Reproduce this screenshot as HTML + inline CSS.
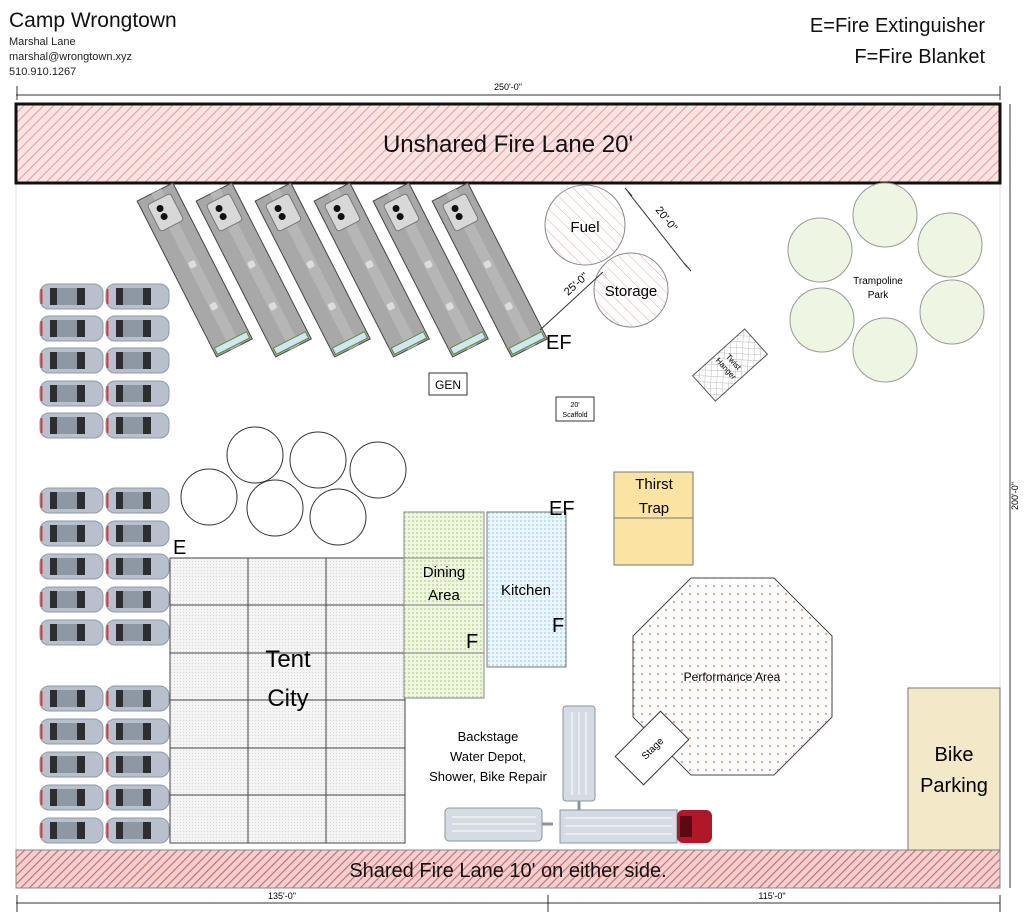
<!DOCTYPE html>
<html><head><meta charset="utf-8"><style>
html,body{margin:0;padding:0;background:#fff;}
svg{display:block;font-family:"Liberation Sans","DejaVu Sans",sans-serif;}
</style></head><body>
<svg width="1024" height="916" viewBox="0 0 1024 916" xmlns="http://www.w3.org/2000/svg">
<defs>
<pattern id="hatch" width="7" height="7" patternUnits="userSpaceOnUse" patternTransform="rotate(45)">
<rect width="7" height="7" fill="#fbe3e3"/><line x1="0" y1="0" x2="0" y2="7" stroke="#e89a9a" stroke-width="2"/></pattern>
<pattern id="hatch2" width="6" height="6" patternUnits="userSpaceOnUse" patternTransform="rotate(45)">
<rect width="6" height="6" fill="#f3cfcf"/><line x1="0" y1="0" x2="0" y2="6" stroke="#c86a6a" stroke-width="2.2"/></pattern>
<pattern id="chatch" width="8" height="8" patternUnits="userSpaceOnUse" patternTransform="rotate(-45)">
<rect width="8" height="8" fill="#fff"/><line x1="0" y1="0" x2="0" y2="8" stroke="#f0a8a8" stroke-width="1"/></pattern>
<pattern id="dots" width="8" height="8" patternUnits="userSpaceOnUse">
<rect width="8" height="8" fill="#fff"/><circle cx="2" cy="2" r="0.9" fill="#e06060"/></pattern>
<pattern id="grn" width="4" height="4" patternUnits="userSpaceOnUse">
<rect width="4" height="4" fill="#eef5e2"/><rect width="2" height="2" fill="#c9dfae"/></pattern>
<pattern id="blu" width="4" height="4" patternUnits="userSpaceOnUse">
<rect width="4" height="4" fill="#eef6fb"/><circle cx="1" cy="1" r="0.8" fill="#8fc3e3"/></pattern>
<pattern id="gry" width="3" height="3" patternUnits="userSpaceOnUse">
<rect width="3" height="3" fill="#f4f4f4"/><rect width="1" height="1" fill="#d8d8d8"/></pattern>
<pattern id="tw" width="6" height="6" patternUnits="userSpaceOnUse" patternTransform="rotate(45)">
<rect width="6" height="6" fill="#fff"/><line x1="0" y1="0" x2="0" y2="6" stroke="#bbb"/><line x1="0" y1="0" x2="6" y2="0" stroke="#bbb"/></pattern>
<g id="car">
<rect x="0" y="0" width="63" height="25" rx="9" fill="#b7c0cc" stroke="#8f9aa8"/>
<rect x="10" y="4" width="7" height="17" fill="#2e2e2e"/>
<rect x="17" y="4" width="20" height="17" fill="#8e97a4"/>
<rect x="37" y="4" width="8" height="17" fill="#2e2e2e"/>
<rect x="0.5" y="5" width="2" height="15" fill="#d04040"/>
</g>
<g id="rv">
<rect x="-20" y="0" width="40" height="175" fill="#a8a8a8" stroke="#444"/>
<rect x="-4" y="0" width="11" height="175" fill="#b6b6b6"/>
<rect x="-13" y="8" width="26" height="30" rx="3" fill="#d8d8d8" stroke="#777"/>
<circle cx="-3" cy="17" r="3.5" fill="#111"/><circle cx="-3" cy="26" r="3.5" fill="#111"/>
<rect x="-3" y="78" width="7" height="7" rx="2" fill="#ddd"/>
<rect x="-3" y="125" width="7" height="7" rx="2" fill="#ddd"/>
<rect x="-18" y="166" width="36" height="7" fill="#cfe7f0" stroke="#5a8a3a"/>
</g>
</defs>

<!-- header -->
<text x="9" y="27" font-size="21" fill="#111">Camp Wrongtown</text>
<text x="9" y="45" font-size="11" fill="#222">Marshal Lane</text>
<text x="9" y="60" font-size="11" fill="#222">marshal@wrongtown.xyz</text>
<text x="9" y="75" font-size="11" fill="#222">510.910.1267</text>
<text x="985" y="32" font-size="20" text-anchor="end" fill="#111">E=Fire Extinguisher</text>
<text x="985" y="63" font-size="20" text-anchor="end" fill="#111">F=Fire Blanket</text>

<!-- dimensions -->
<g stroke="#333" stroke-width="1">
<line x1="16" y1="95" x2="1000" y2="95"/><line x1="17" y1="86" x2="17" y2="100"/><line x1="1000" y1="86" x2="1000" y2="100"/>
<line x1="1010" y1="104" x2="1010" y2="888"/>
<line x1="16" y1="903" x2="1000" y2="903"/><line x1="17" y1="895" x2="17" y2="912"/><line x1="548" y1="895" x2="548" y2="912"/><line x1="1000" y1="895" x2="1000" y2="912"/>
<line x1="16" y1="104" x2="16" y2="888" stroke="#ddd"/><line x1="1000" y1="104" x2="1000" y2="888" stroke="#ddd"/>
</g>
<text x="508" y="90" font-size="9" text-anchor="middle">250'-0"</text>
<text x="282" y="899" font-size="9" text-anchor="middle">135'-0"</text>
<text x="772" y="899" font-size="9" text-anchor="middle">115'-0"</text>
<text transform="translate(1018,496) rotate(-90)" font-size="9" text-anchor="middle">200'-0"</text>

<!-- fire lanes -->
<rect x="16" y="104" width="984" height="79" fill="url(#hatch)" stroke="#111" stroke-width="3"/>
<text x="508" y="152" font-size="24" text-anchor="middle" fill="#111">Unshared Fire Lane 20'</text>
<rect x="16" y="850" width="984" height="38" fill="url(#hatch2)" stroke="#888"/>
<text x="508" y="877" font-size="20" text-anchor="middle" fill="#111">Shared Fire Lane 10' on either side.</text>

<!-- RVs -->
<use href="#rv" transform="translate(155,192) rotate(-27)"/>
<use href="#rv" transform="translate(214,192) rotate(-27)"/>
<use href="#rv" transform="translate(273,192) rotate(-27)"/>
<use href="#rv" transform="translate(332,192) rotate(-27)"/>
<use href="#rv" transform="translate(391,192) rotate(-27)"/>
<use href="#rv" transform="translate(450,192) rotate(-27)"/>
<text x="546" y="349" font-size="20">EF</text>

<!-- fuel/storage -->
<circle cx="585" cy="225" r="40" fill="url(#chatch)" stroke="#888"/>
<text x="585" y="232" font-size="15" text-anchor="middle">Fuel</text>
<circle cx="631" cy="290" r="37" fill="url(#chatch)" stroke="#888"/>
<text x="631" y="296" font-size="15" text-anchor="middle">Storage</text>
<g stroke="#333"><line x1="540" y1="330" x2="603" y2="272"/><line x1="628" y1="192" x2="687" y2="267"/><line x1="625" y1="188" x2="632" y2="196"/><line x1="684" y1="263" x2="691" y2="271"/></g>
<text transform="translate(568,296) rotate(-42)" font-size="11">25'-0"</text>
<text transform="translate(655,210) rotate(52)" font-size="11">20'-0"</text>

<!-- trampoline -->
<g fill="#eef5e2" stroke="#999">
<circle cx="885" cy="215" r="32"/><circle cx="820" cy="250" r="32"/><circle cx="950" cy="245" r="32"/>
<circle cx="822" cy="320" r="32"/><circle cx="952" cy="312" r="32"/><circle cx="885" cy="350" r="32"/>
</g>
<text x="878" y="284" font-size="10" text-anchor="middle">Trampoline</text>
<text x="878" y="298" font-size="10" text-anchor="middle">Park</text>

<!-- twist hanger -->
<g transform="translate(730,365) rotate(48)">
<rect x="-17" y="-35" width="34" height="70" fill="url(#tw)" stroke="#555"/>
<text x="0" y="-2" font-size="8" text-anchor="middle">Twist</text>
<text x="0" y="8" font-size="8" text-anchor="middle">Hanger</text>
</g>

<!-- gen, scaffold -->
<rect x="429" y="373" width="38" height="22" fill="#fff" stroke="#333"/>
<text x="448" y="389" font-size="12" text-anchor="middle">GEN</text>
<rect x="556" y="397" width="38" height="24" fill="#fff" stroke="#333"/>
<text x="575" y="407" font-size="7" text-anchor="middle">20'</text>
<text x="575" y="417" font-size="7" text-anchor="middle">Scaffold</text>

<!-- cars -->
<g>
<use href="#car" x="40" y="284"/><use href="#car" x="106" y="284"/>
<use href="#car" x="40" y="316"/><use href="#car" x="106" y="316"/>
<use href="#car" x="40" y="348"/><use href="#car" x="106" y="348"/>
<use href="#car" x="40" y="381"/><use href="#car" x="106" y="381"/>
<use href="#car" x="40" y="413"/><use href="#car" x="106" y="413"/>
<use href="#car" x="40" y="488"/><use href="#car" x="106" y="488"/>
<use href="#car" x="40" y="521"/><use href="#car" x="106" y="521"/>
<use href="#car" x="40" y="554"/><use href="#car" x="106" y="554"/>
<use href="#car" x="40" y="587"/><use href="#car" x="106" y="587"/>
<use href="#car" x="40" y="620"/><use href="#car" x="106" y="620"/>
<use href="#car" x="40" y="686"/><use href="#car" x="106" y="686"/>
<use href="#car" x="40" y="719"/><use href="#car" x="106" y="719"/>
<use href="#car" x="40" y="752"/><use href="#car" x="106" y="752"/>
<use href="#car" x="40" y="785"/><use href="#car" x="106" y="785"/>
<use href="#car" x="40" y="818"/><use href="#car" x="106" y="818"/>
</g>

<!-- white circles -->
<g fill="#fff" stroke="#333">
<circle cx="255" cy="455" r="28"/><circle cx="318" cy="460" r="28"/><circle cx="378" cy="470" r="28"/>
<circle cx="209" cy="497" r="28"/><circle cx="275" cy="508" r="28"/><circle cx="338" cy="517" r="28"/>
</g>
<text x="173" y="554" font-size="20">E</text>

<!-- tent city -->
<rect x="170" y="558" width="235" height="285" fill="url(#gry)" stroke="#444"/>
<g stroke="#444"><line x1="248" y1="558" x2="248" y2="843"/><line x1="326" y1="558" x2="326" y2="843"/>
<line x1="170" y1="605" x2="405" y2="605"/><line x1="170" y1="653" x2="405" y2="653"/><line x1="170" y1="700" x2="405" y2="700"/><line x1="170" y1="748" x2="405" y2="748"/><line x1="170" y1="795" x2="405" y2="795"/></g>
<text x="288" y="667" font-size="24" text-anchor="middle">Tent</text>
<text x="288" y="706" font-size="24" text-anchor="middle">City</text>

<!-- dining -->
<rect x="404" y="512" width="80" height="186" fill="url(#grn)" stroke="#888"/>
<g stroke="#888"><line x1="404" y1="558" x2="484" y2="558"/><line x1="404" y1="605" x2="484" y2="605"/><line x1="404" y1="653" x2="484" y2="653"/></g>
<text x="444" y="577" font-size="15" text-anchor="middle">Dining</text>
<text x="444" y="600" font-size="15" text-anchor="middle">Area</text>
<text x="466" y="648" font-size="20">F</text>
<!-- kitchen -->
<rect x="487" y="512" width="79" height="155" fill="url(#blu)" stroke="#777"/>
<text x="526" y="595" font-size="15" text-anchor="middle">Kitchen</text>
<text x="552" y="632" font-size="20">F</text>
<text x="549" y="515" font-size="20">EF</text>

<!-- thirst trap -->
<rect x="614" y="472" width="79" height="93" fill="#fbe3a3" stroke="#777"/>
<line x1="614" y1="518" x2="693" y2="518" stroke="#777"/>
<text x="654" y="489" font-size="15" text-anchor="middle">Thirst</text>
<text x="654" y="513" font-size="15" text-anchor="middle">Trap</text>

<!-- performance -->
<polygon points="691,578 774,578 832,636 832,717 774,775 691,775 633,717 633,636" fill="url(#dots)" stroke="#444"/>
<text x="732" y="681" font-size="12" text-anchor="middle">Performance Area</text>
<g transform="translate(652,748) rotate(-45)">
<rect x="-32" y="-20" width="64" height="40" fill="#fff" stroke="#333"/>
<text x="0" y="4" font-size="10" text-anchor="middle">Stage</text>
</g>

<!-- backstage -->
<text x="488" y="741" font-size="13" text-anchor="middle">Backstage</text>
<text x="488" y="761" font-size="13" text-anchor="middle">Water Depot,</text>
<text x="488" y="781" font-size="13" text-anchor="middle">Shower, Bike Repair</text>
<rect x="563" y="706" width="32" height="95" rx="3" fill="#d5dbe2" stroke="#8a949e"/>
<g stroke="#fff"><line x1="572" y1="712" x2="572" y2="795"/><line x1="579" y1="712" x2="579" y2="795"/><line x1="586" y1="712" x2="586" y2="795"/></g>
<line x1="579" y1="801" x2="579" y2="810" stroke="#8a949e" stroke-width="3"/>
<rect x="445" y="808" width="97" height="33" rx="4" fill="#d5dbe2" stroke="#8a949e"/>
<g stroke="#fff"><line x1="452" y1="817" x2="536" y2="817"/><line x1="452" y1="824" x2="536" y2="824"/><line x1="452" y1="831" x2="536" y2="831"/></g>
<line x1="542" y1="824" x2="553" y2="824" stroke="#8a949e" stroke-width="3"/>
<rect x="560" y="810" width="117" height="33" fill="#d5dbe2" stroke="#8a949e"/>
<g stroke="#fff"><line x1="565" y1="818" x2="672" y2="818"/><line x1="565" y1="826" x2="672" y2="826"/><line x1="565" y1="834" x2="672" y2="834"/></g>
<rect x="677" y="810" width="35" height="33" rx="6" fill="#b0182a"/>
<rect x="680" y="816" width="12" height="21" fill="#5a0a12"/>

<!-- bike parking -->
<rect x="908" y="688" width="92" height="162" fill="#f3e8c8" stroke="#777"/>
<text x="954" y="761" font-size="20" text-anchor="middle">Bike</text>
<text x="954" y="792" font-size="20" text-anchor="middle">Parking</text>
</svg>
</body></html>
